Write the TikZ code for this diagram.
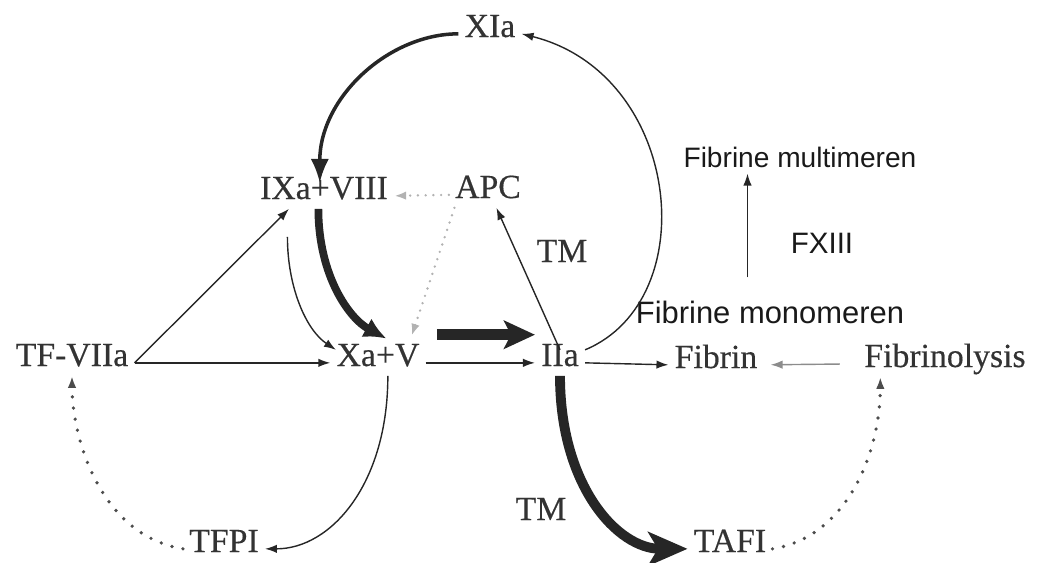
\documentclass[tikz,border=0pt]{standalone}
\usepackage{fontspec}
\setmainfont{Liberation Serif}[FakeBold=0.4]
\setsansfont{Liberation Sans}
\usetikzlibrary{arrows.meta}
\begin{document}
\begin{tikzpicture}[x=0.025cm, y=-0.025cm, >={Latex[length=8.5pt,width=6pt]}, line width=1pt, black!85]
    \tikzstyle{factor}=[font=\fontsize{24}{28}\selectfont, text=black!80, inner sep=4pt, text height=0.7em, text depth=0.25em, anchor=base]
    \tikzstyle{deutsch}=[font=\sffamily\fontsize{21}{25}\selectfont, text=black!90, inner sep=4pt, anchor=base]
    \tikzstyle{flow}=[->]
    \tikzstyle{dotflow}=[->, black!70, line width=2.6pt, line cap=round, dash pattern=on 0pt off 8pt]
    \tikzstyle{greydotflow}=[->, gray!60, line width=1.9pt, line cap=round, dash pattern=on 0pt off 5.5pt]
    \tikzstyle{heavy}=[-{Latex[length=17pt,width=13pt]}, line width=2.5pt]

    \useasboundingbox (0,0) rectangle (1039,562);

    % factors
    \node[factor] (XIa) at (490,37) {XIa};
    \node[factor] (IXa) at (324,199) {IXa+VIII};
    \node[factor] (APC) at (488,198) {APC};
    \node[factor] (TF) at (72,366) {TF-VIIa};
    \node[factor] (Xa) at (378,366) {Xa+V};
    \node[factor] (IIa) at (560,366) {IIa};
    \node[factor] (Fibrin) at (716,368) {Fibrin};
    \node[factor] (Fibrinolysis) at (945,367) {Fibrinolysis};
    \node[factor] (TFPI) at (224,552) {TFPI};
    \node[factor] (TAFI) at (730,552) {TAFI};
    \node[factor] (TMa) at (562,262) {TM};
    \node[factor] (TMb) at (541,520) {TM};
    % fibrin polymerisation
    \node[deutsch, font=\sffamily\fontsize{22}{26}\selectfont] (mono) at (770,323) {Fibrine monomeren};
    \node[deutsch, font=\sffamily\fontsize{20}{24}\selectfont] (multi) at (800,167) {Fibrine multimeren};
    \node[deutsch] (FXIII) at (822,253) {FXIII};

    % connectors
    \draw[heavy] (XIa.west) .. controls +(-70,0) and +(0,-85) .. ([xshift=-3pt]IXa.north);
    \draw[flow] (IIa.north east) .. controls +(120,-50) and +(160,40) .. (XIa.east);
    \draw[greydotflow] (APC.west) -- (IXa.east);
    \draw[flow] ([xshift=-26pt,yshift=-20pt]IXa.south) .. controls +(0,50) and +(-30,-20) .. ([xshift=4pt]Xa.north west);
    \draw[-{Latex[length=16pt,width=15pt]}, line width=5.5pt] ([xshift=-4pt]IXa.south) .. controls +(0,67) and +(-37,-20) .. ([xshift=6pt,yshift=8pt]Xa.north);
    \draw[greydotflow] ([xshift=4pt]APC.south west) -- ([xshift=-10pt,yshift=10pt]Xa.north east);
    \draw[flow] (TF.east) -- ([xshift=25pt]IXa.south west);
    \draw[flow] (TF.east) -- (Xa.west);
    \draw[-{Stealth[length=22pt,width=20pt,inset=5pt]}, line width=8pt] ([xshift=8pt,yshift=20pt]Xa.east) -- ([yshift=20pt]IIa.west);
    \draw[flow] (Xa.east) -- (IIa.west);
    \draw[flow] (IIa.north) -- ([xshift=6pt]APC.south);
    \draw[flow] (IIa.east) -- (Fibrin.west);
    \draw[flow, gray!90, shorten <=13pt, shorten >=5pt] (Fibrinolysis.west) -- (Fibrin.east);
    \draw[flow, shorten <=12pt] ([xshift=-16pt]mono.north) -- ([xshift=-16pt]mono.north |- multi.south);
    \draw[-{Stealth[length=28pt,width=24pt,inset=7pt]}, line width=7pt] (IIa.south) .. controls +(0,110) and +(-70,0) .. (TAFI.west);
    \draw[flow] ([xshift=7pt]Xa.south) .. controls +(0,108) and +(66,0) .. (TFPI.east);
    \draw[dotflow] (TFPI.west) .. controls +(-84,-14) and +(0,60) .. (TF.south);
    \draw[dotflow] (TAFI.east) .. controls +(75,-12) and +(0,75) .. ([xshift=-46pt]Fibrinolysis.south);
\end{tikzpicture}
\end{document}
